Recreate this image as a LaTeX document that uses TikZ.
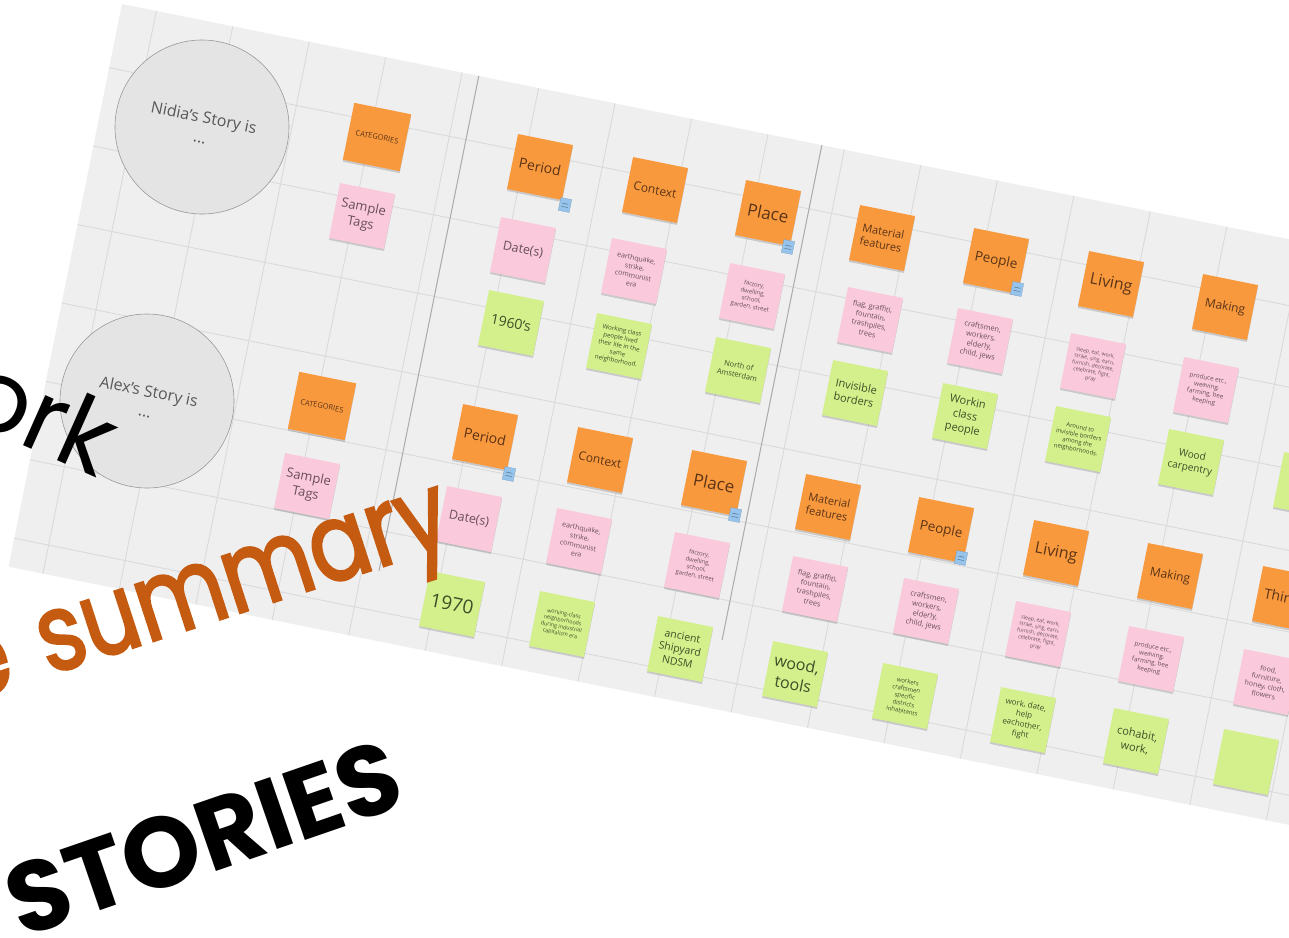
\documentclass[tikz,border=0pt]{standalone}
\usepackage{fontspec}
\setmainfont{Open Sans}
\newfontfamily\popfont{Poppins}
\newfontfamily\popsum{Poppins}[FakeBold=2.2, FakeStretch=0.82]
\usetikzlibrary{shadows,calc}
\newcommand\fsz[1]{\fontsize{#1}{\dimexpr#1pt*5/4\relax}\selectfont}
\definecolor{boardbg}{RGB}{239,239,239}
\definecolor{gridC}{RGB}{218,218,218}
\definecolor{sepC}{RGB}{170,170,170}
\definecolor{orangeC}{RGB}{248,153,62}
\definecolor{pinkC}{RGB}{250,201,219}
\definecolor{greenC}{RGB}{212,240,140}
\definecolor{blueC}{RGB}{150,196,236}
\definecolor{orangeT}{RGB}{92,52,22}
\definecolor{pinkT}{RGB}{105,78,92}
\definecolor{greenT}{RGB}{62,78,40}
\definecolor{circC}{RGB}{228,228,228}
\definecolor{circT}{RGB}{88,88,88}
\definecolor{sumC}{RGB}{197,90,17}
\tikzset{
  note/.style={rectangle, minimum width=56pt, minimum height=56pt, inner sep=1pt,
    align=center, rotate=-11.4,
    drop shadow={shadow xshift=0pt, shadow yshift=-2pt, opacity=0.3, fill=black!55}},
  onote/.style={note, fill=orangeC, text=orangeT},
  pnote/.style={note, fill=pinkC, text=pinkT},
  gnote/.style={note, fill=greenC, text=greenT},
  mini/.style={rectangle, minimum width=11pt, minimum height=13pt, inner sep=0pt,
    fill=blueC, draw=blueC!80!black, line width=0.3pt, rotate=-11.4},
  miniline/.style={draw=blueC!60!black, line width=0.5pt, shorten >=2.5pt, shorten <=2.5pt},
  circ/.style={circle, minimum size=174pt, fill=circC, draw=black!40, line width=0.6pt,
    align=center, rotate=-11.4, text=circT, font=\fsz{16}},
  gridline/.style={draw=gridC, line width=0.9pt},
  sepline/.style={draw=sepC, line width=1pt},
}
\begin{document}
\begin{tikzpicture}[x=1pt,y=-1pt]
\useasboundingbox (0,0) rectangle (1289,937);
\clip (0,0) rectangle (1289,937);
\fill[white] (0,0) rectangle (1289,937);
% board
\begin{scope}[shift={(122,4)}, rotate=-11.4]
  \fill[boardbg] (0,0) rectangle (1500,574);
  \clip (0,0) rectangle (1500,574);
  \foreach \u in {35,113,...,1500} \draw[gridline] (\u,0) -- (\u,574);
  \foreach \v in {65,145,...,574} \draw[gridline] (0,\v) -- (1500,\v);
  \coordinate (s1a) at (364,0); \coordinate (s1b) at (364,505);
  \coordinate (s2a) at (714,0); \coordinate (s2b) at (714,505);
  \draw[sepline] (s1a) -- (s1b);
  \draw[sepline] (s2a) -- (s2b);
\end{scope}

% ---------- row 1 : Nidia ----------
\node[circ] (c1) at (202,127) {Nidia's Story is\\...};
\node[onote, minimum width=58pt, minimum height=58pt, font=\fsz{7.5}] (cat1) at (377,137) {CATEGORIES};
\node[pnote, font=\fsz{13}] (tag1) at (362,216) {Sample\\Tags};
\node[onote, font=\fsz{14}] (per1) at (540,167) {Period};
\node[onote, font=\fsz{12}] (con1) at (655,190) {Context};
\node[onote, font=\fsz{17}] (pla1) at (768,213) {Place};
\node[onote, font=\fsz{11}] (mat1) at (882,238) {Material\\features};
\node[onote, font=\fsz{13.5}] (peo1) at (996,261) {People};
\node[onote, font=\fsz{16}] (liv1) at (1111,284) {Living};
\node[onote, font=\fsz{12}] (mak1) at (1225,307) {Making};

\node[pnote, font=\fsz{12.5}] (dat1) at (523,250) {Date(s)};
\node[pnote, font=\fsz{7}] (ctx1) at (634,271) {earthquake,\\strike,\\communist\\era};
\node[pnote, font=\fsz{6}] (fac1) at (752,296) {factory,\\dwelling,\\school,\\garden, street};
\node[pnote, font=\fsz{7.3}] (flg1) at (870,320) {flag, graffiti,\\fountain,\\trashpiles,\\trees};
\node[pnote, font=\fsz{7.5}] (cra1) at (980,341) {craftsmen,\\workers,\\elderly,\\child, jews};
\node[pnote, font=\fsz{5.2}] (slp1) at (1093,366) {sleep, eat, work,\\strike, sing, earn,\\furnish, decorate,\\celebrate, fight,\\pray};
\node[pnote, font=\fsz{6.3}] (pro1) at (1206,390) {produce etc.,\\weaving,\\farming, bee\\keeping};

\node[gnote, font=\fsz{14}] (g11) at (511,323) {1960's};
\node[gnote, font=\fsz{6.2}] (g12) at (619,346) {Working class\\people lived\\their life in the\\same\\neighborhood.};
\node[gnote, font=\fsz{7.5}] (g13) at (738,370) {North of\\Amsterdam};
\node[gnote, font=\fsz{11}] (g14) at (855,393) {Invisible\\borders};
\node[gnote, font=\fsz{11}] (g15) at (965,416) {Workin\\class\\people};
\node[gnote, font=\fsz{6}] (g16) at (1078,439) {Around to\\invisible borders\\among the\\neighborhoods.};
\node[gnote, font=\fsz{10}] (g17) at (1191,462) {Wood\\carpentry};
\node[gnote] (g18) at (1306,485) {};

% ---------- row 2 : Alex ----------
\node[circ] (c2) at (147,401) {Alex's Story is\\...};
\node[onote, minimum width=58pt, minimum height=58pt, font=\fsz{7.5}] (cat2) at (322,406) {CATEGORIES};
\node[pnote, font=\fsz{13}] (tag2) at (307,486) {Sample\\Tags};
\node[onote, font=\fsz{14}] (per2) at (485,437) {Period};
\node[onote, font=\fsz{12}] (con2) at (600,460) {Context};
\node[onote, font=\fsz{17}] (pla2) at (714,483) {Place};
\node[onote, font=\fsz{11}] (mat2) at (828,507) {Material\\features};
\node[onote, font=\fsz{13.5}] (peo2) at (941,530) {People};
\node[onote, font=\fsz{16}] (liv2) at (1056,553) {Living};
\node[onote, font=\fsz{12}] (mak2) at (1170,576) {Making};
\node[onote, font=\fsz{14}] (thi2) at (1285,599) {Things};

\node[pnote, font=\fsz{12.5}] (dat2) at (469,519) {Date(s)};
\node[pnote, font=\fsz{7}] (ctx2) at (579,541) {earthquake,\\strike,\\communist\\era};
\node[pnote, font=\fsz{6}] (fac2) at (697,565) {factory,\\dwelling,\\school,\\garden, street};
\node[pnote, font=\fsz{7.3}] (flg2) at (815,589) {flag, graffiti,\\fountain,\\trashpiles,\\trees};
\node[pnote, font=\fsz{7.5}] (cra2) at (926,611) {craftsmen,\\workers,\\elderly,\\child, jews};
\node[pnote, font=\fsz{5.2}] (slp2) at (1038,634) {sleep, eat, work,\\strike, sing, earn,\\furnish, decorate,\\celebrate, fight,\\pray};
\node[pnote, font=\fsz{6.3}] (pro2) at (1151,659) {produce etc.,\\weaving,\\farming, bee\\keeping};
\node[pnote, font=\fsz{7}] (foo2) at (1266,682) {food,\\furniture,\\honey, cloth,\\flowers};

\node[gnote, font=\fsz{19}] (g21) at (452,604) {1970};
\node[gnote, font=\fsz{5.4}] (g22) at (562,624) {working-class\\neighborhoods\\during industrial\\capitalism era};
\node[gnote, font=\fsz{10.5}] (g23) at (680,649) {ancient\\Shipyard\\NDSM};
\node[gnote, font=\fsz{16}] (g24) at (795,674) {wood,\\tools};
\node[gnote, font=\fsz{6}] (g25) at (905,696) {workers\\craftsmen\\specific\\districts\\inhabitants};
\node[gnote, font=\fsz{8}] (g26) at (1023,720) {work, date,\\help\\eachother,\\fight};
\node[gnote, font=\fsz{11}] (g27) at (1136,741) {cohabit,\\work,};
\node[gnote] (g28) at (1246,762) {};

% blue mini notes
\node[mini] (b1) at (565,205) {};
\node[mini] (b2) at (788,247) {};
\node[mini] (b3) at (1017,289) {};
\node[mini] (b4) at (509,474) {};
\node[mini] (b5) at (735,515) {};
\node[mini] (b6) at (961,558) {};
\foreach \n in {b1,b2,b3,b4,b5,b6} {
  \draw[miniline] ($(\n.north west)!0.4!(\n.south west)$) -- ($(\n.north east)!0.4!(\n.south east)$);
  \draw[miniline] ($(\n.north west)!0.65!(\n.south west)$) -- ($(\n.north east)!0.65!(\n.south east)$);
}

% overlay titles
\node[rotate=-24, anchor=base west, inner sep=0pt, text=black,
  font=\popfont\fontsize{100}{100}\selectfont] (ork) at (-42,416) {ork};
\node[rotate=18, anchor=base west, inner sep=0pt, text=sumC,
  font=\popsum\fontsize{108}{108}\selectfont] (sum) at (-34,702) {e\hspace{0.3em}summary};
\node[rotate=19, inner sep=0pt, text=black,
  font=\popfont\bfseries\fontsize{100}{100}\selectfont] (sto) at (204,838) {STORIES};
\end{tikzpicture}
\end{document}
